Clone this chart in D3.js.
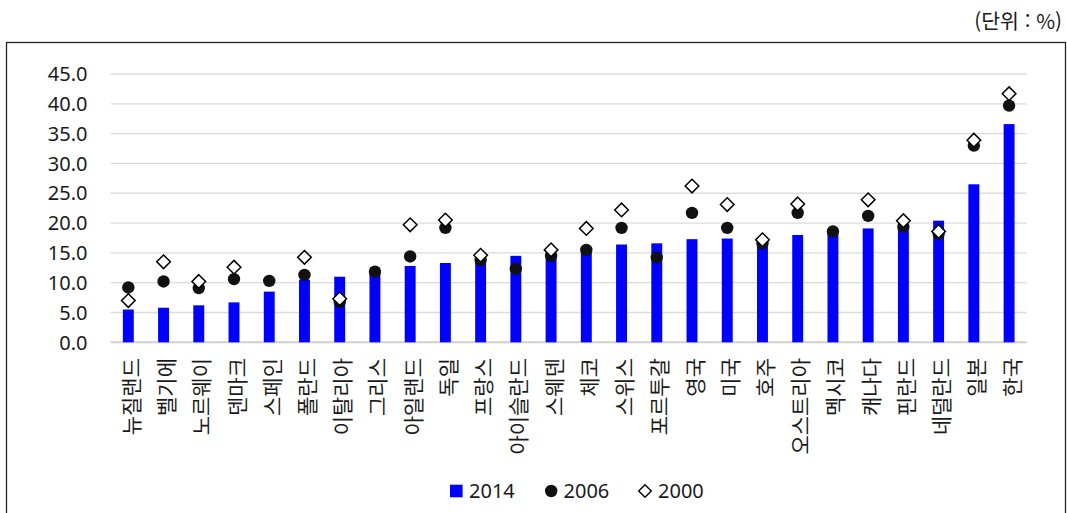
<!DOCTYPE html>
<html lang="ko">
<head>
    <meta charset="UTF-8">
    <title>OECD chart</title>
    <script src="https://cdnjs.cloudflare.com/ajax/libs/d3/7.8.5/d3.min.js"></script>
    <style>
        * { margin: 0; padding: 0; box-sizing: border-box; }
        body { background: #fff; width: 1067px; height: 513px; overflow: hidden; }
        svg { display: block; }
        .num { font-family: "Noto Sans", "DejaVu Sans", sans-serif; font-size: 20px; fill: #1a1a1a; }
        .kr { font-family: "Noto Sans CJK KR", "Noto Sans", sans-serif; font-size: 20.5px; fill: #1a1a1a; }
        .kr.lbl { font-size: 21px; }
    </style>
</head>
<body>
<div id="chart"></div>
<script>
    // categories (countries), left to right
    const countries = ['뉴질랜드', '벨기에', '노르웨이', '덴마크', '스페인', '폴란드', '이탈리아', '그리스',
        '아일랜드', '독일', '프랑스', '아이슬란드', '스웨덴', '체코', '스위스', '포르투갈', '영국', '미국',
        '호주', '오스트리아', '멕시코', '캐나다', '핀란드', '네덜란드', '일본', '한국'];

    // bars
    const v2014 = [5.5, 5.8, 6.2, 6.7, 8.5, 10.5, 11.0, 11.5, 12.8, 13.3, 14.0, 14.5, 14.3, 15.2, 16.4, 16.6,
        17.3, 17.4, 17.5, 18.0, 18.5, 19.1, 19.3, 20.4, 26.5, 36.6];
    // filled dots
    const v2006 = [9.2, 10.2, 9.1, 10.6, 10.3, 11.3, 6.8, 11.85, 14.4, 19.2, 13.8, 12.3, 14.5, 15.5, 19.2, 14.25,
        21.7, 19.2, 16.6, 21.7, 18.6, 21.2, 19.4, 18.2, 33.0, 39.7];
    // open diamonds (null = no value)
    const v2000 = [7.0, 13.5, 10.2, 12.6, null, 14.25, 7.3, null, 19.7, 20.5, 14.6, null, 15.5, 19.1, 22.2, null,
        26.2, 23.1, 17.2, 23.2, null, 23.9, 20.4, 18.6, 33.9, 41.7];

    const yTicks = [0, 5, 10, 15, 20, 25, 30, 35, 40, 45];
    const legendLabels = ['2014', '2006', '2000'];
    const unitLabel = '(단위 : %)';

    const W = 1067, H = 513;
    const svg = d3.select('#chart').append('svg').attr('width', W).attr('height', H);

    // outer frame (open at the bottom edge of the picture)
    svg.append('rect')
        .attr('x', 6.5).attr('y', 42.5)
        .attr('width', 1059).attr('height', 500)
        .attr('fill', 'none').attr('stroke', '#222').attr('stroke-width', 1.3);

    svg.append('text').attr('class', 'kr')
        .attr('x', 1062).attr('y', 29)
        .attr('text-anchor', 'end')
        .text(unitLabel);

    const x = d3.scaleBand()
        .domain(countries)
        .range([110.7, 1026.7])
        .paddingInner(0.69)
        .paddingOuter(0.345);

    const y = d3.scaleLinear().domain([0, 45]).range([342.3, 74]);

    // gridlines
    svg.append('g').selectAll('line')
        .data(yTicks)
        .enter().append('line')
        .attr('x1', 110.7).attr('x2', 1026.7)
        .attr('y1', d => y(d)).attr('y2', d => y(d))
        .attr('stroke', d => d === 0 ? '#d0d0d0' : '#dcdcdc')
        .attr('stroke-width', d => d === 0 ? 2 : 1.3);

    // y tick labels
    svg.append('g').selectAll('text')
        .data(yTicks)
        .enter().append('text')
        .attr('class', 'num')
        .attr('x', 87.5)
        .attr('y', d => y(d))
        .attr('dy', '0.36em')
        .attr('text-anchor', 'end')
        .text(d => d3.format('.1f')(d));

    // bars 2014
    svg.append('g').selectAll('rect')
        .data(countries)
        .enter().append('rect')
        .attr('x', d => x(d))
        .attr('width', x.bandwidth())
        .attr('y', (d, i) => y(v2014[i]))
        .attr('height', (d, i) => y(0) - y(v2014[i]))
        .attr('fill', '#0000ff');

    // 2006 dots
    svg.append('g').selectAll('circle')
        .data(countries)
        .enter().append('circle')
        .attr('cx', d => x(d) + x.bandwidth() / 2)
        .attr('cy', (d, i) => y(v2006[i]))
        .attr('r', 6.2)
        .attr('fill', '#111');

    // 2000 diamonds
    const diamond = r => `M0,${-r}L${r},0L0,${r}L${-r},0Z`;
    svg.append('g').selectAll('path')
        .data(countries.map((c, i) => ({c, v: v2000[i]})).filter(d => d.v !== null))
        .enter().append('path')
        .attr('d', diamond(6.8))
        .attr('transform', d => `translate(${x(d.c) + x.bandwidth() / 2},${y(d.v)})`)
        .attr('fill', '#fff')
        .attr('stroke', '#000')
        .attr('stroke-width', 1.5);

    // x labels, rotated
    svg.append('g').selectAll('text')
        .data(countries)
        .enter().append('text')
        .attr('class', 'kr lbl')
        .attr('transform', d => `translate(${x(d) + x.bandwidth() / 2 + 3},358) rotate(-90)`)
        .attr('dy', '0.36em')
        .attr('text-anchor', 'end')
        .text(d => d);

    // legend
    const legend = svg.append('g').attr('transform', 'translate(0,491)');
    const legendX = [450, 545, 638.5];

    legend.append('rect')
        .attr('x', legendX[0]).attr('y', -6.3)
        .attr('width', 12.6).attr('height', 12.6)
        .attr('fill', '#0000ff');
    legend.append('circle')
        .attr('cx', legendX[1] + 6.2).attr('cy', 0)
        .attr('r', 6.2).attr('fill', '#111');
    legend.append('path')
        .attr('d', diamond(6.3))
        .attr('transform', `translate(${legendX[2] + 6.5},0)`)
        .attr('fill', '#fff').attr('stroke', '#000').attr('stroke-width', 1.4);

    legend.selectAll('text.num')
        .data(legendLabels)
        .enter().append('text')
        .attr('class', 'num')
        .attr('x', (d, i) => legendX[i] + [19, 18.5, 19.5][i])
        .attr('y', 0)
        .attr('dy', '0.36em')
        .text(d => d);
</script>
</body>
</html>
